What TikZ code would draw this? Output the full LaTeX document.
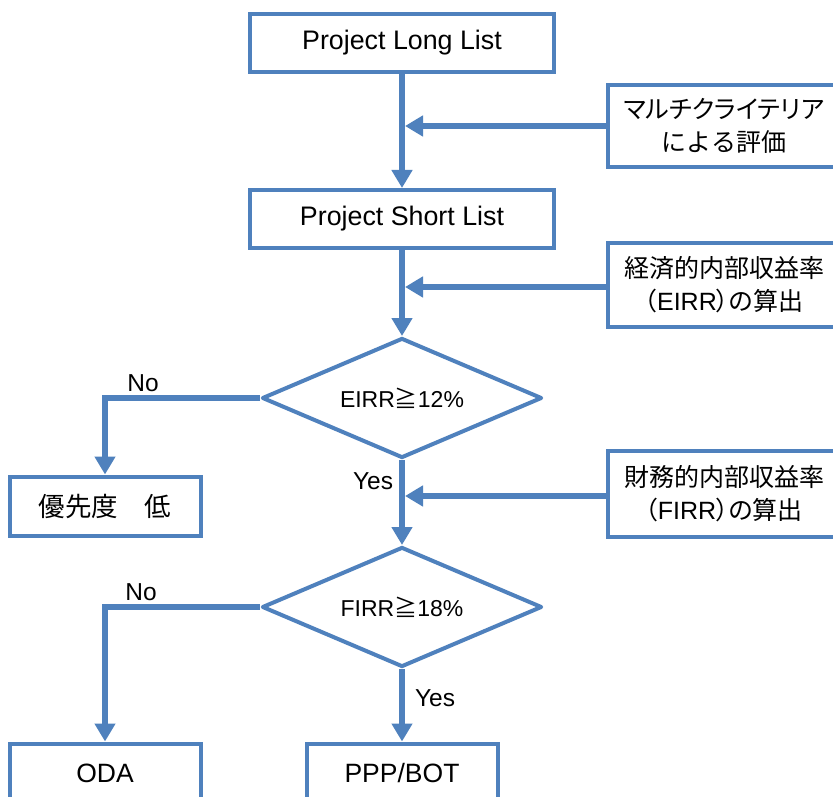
\documentclass[tikz,border=0pt]{standalone}
\usepackage{fontspec}
\setmainfont{Liberation Sans}
\newfontfamily\cjk{Noto Sans CJK JP}
\newfontfamily\cjkp{Noto Sans CJK JP}[RawFeature=+palt]
\usetikzlibrary{shapes.geometric,arrows.meta}
\definecolor{flowblue}{RGB}{79,129,189}
\begin{document}
\begin{tikzpicture}[x=1pt,y=-1pt,
  box/.style={draw=flowblue,line width=4pt,fill=white,rectangle,inner sep=0pt,
    minimum width=304pt,minimum height=58pt,font=\fontsize{26.8}{30}\selectfont},
  sidebox/.style={draw=flowblue,line width=4pt,fill=white,rectangle,inner sep=0pt,
    minimum width=232pt,align=center,font=\fontsize{25}{33}\selectfont},
  endbox/.style={draw=flowblue,line width=4pt,fill=white,rectangle,inner sep=0pt,
    minimum width=191pt,minimum height=59pt,font=\fontsize{26.5}{30}\selectfont},
  decision/.style={draw=flowblue,line width=4pt,fill=white,diamond,inner sep=0pt,
    aspect=2.33,minimum width=280pt,minimum height=120pt,line join=round,
    font=\fontsize{23}{27}\selectfont},
  mainflow/.style={draw=flowblue,line width=6pt,
    -{Triangle[length=18pt,width=20pt]}},
  sideflow/.style={draw=flowblue,line width=5.5pt,
    -{Triangle[length=18pt,width=20pt]}},
  answer/.style={font=\fontsize{24.5}{28}\selectfont,inner sep=0pt}]
\useasboundingbox (0,0) rectangle (833,797);
\fill[white] (0,0) rectangle (833,797);

% main column
\node[box] (long) at (402,43) {Project Long List};
\node[box] (short) at (402,219) {Project Short List};
\node[decision] (d1) at (402,398) {EIRR{\cjk ≧}12\%};
\node[decision] (d2) at (402,607) {FIRR{\cjk ≧}18\%};

% outcomes
\node[endbox] (low) at (105,506) {\cjk 優先度　低};
\node[endbox] (oda) at (105,773) {ODA};
\node[endbox] (ppp) at (402,773) {PPP/BOT};

% evaluation steps on the right
\node[sidebox,minimum height=82pt] (mca) at (724,126)
  {{\cjkp マルチクライテリア}\\{\cjk による評価}};
\node[sidebox,minimum height=84pt] (eirr) at (724,285)
  {{\cjk 経済的内部収益率}\\{\cjkp （}EIRR{\cjkp ）の算出}};
\node[sidebox,minimum height=86pt] (firr) at (724,494)
  {{\cjk 財務的内部収益率}\\{\cjkp （}FIRR{\cjkp ）の算出}};

% flow
\draw[mainflow] (long.south) -- (short.north);
\draw[mainflow] (short.south) -- (d1.north);
\draw[mainflow] (d1.south) -- (d2.north);
\draw[mainflow] (d2.south) -- (ppp.north);
\draw[mainflow] (d1.west) -| (low.north);
\draw[mainflow] (d2.west) -| (oda.north);

% inputs joining the main column
\draw[sideflow] (mca.west) -- ([xshift=3pt]mca.west -| long.south);
\draw[sideflow] ([yshift=-2pt]eirr.west) -- ([xshift=3pt,yshift=-2pt]eirr.west -| long.south);
\draw[sideflow] ([yshift=-2pt]firr.west) -- ([xshift=3pt,yshift=-2pt]firr.west -| long.south);

% branch labels
\node[answer] (no1) at (143,383) {No};
\node[answer] (yes1) at (373,481) {Yes};
\node[answer] (no2) at (141,592) {No};
\node[answer] (yes2) at (435,698) {Yes};
\end{tikzpicture}
\end{document}
